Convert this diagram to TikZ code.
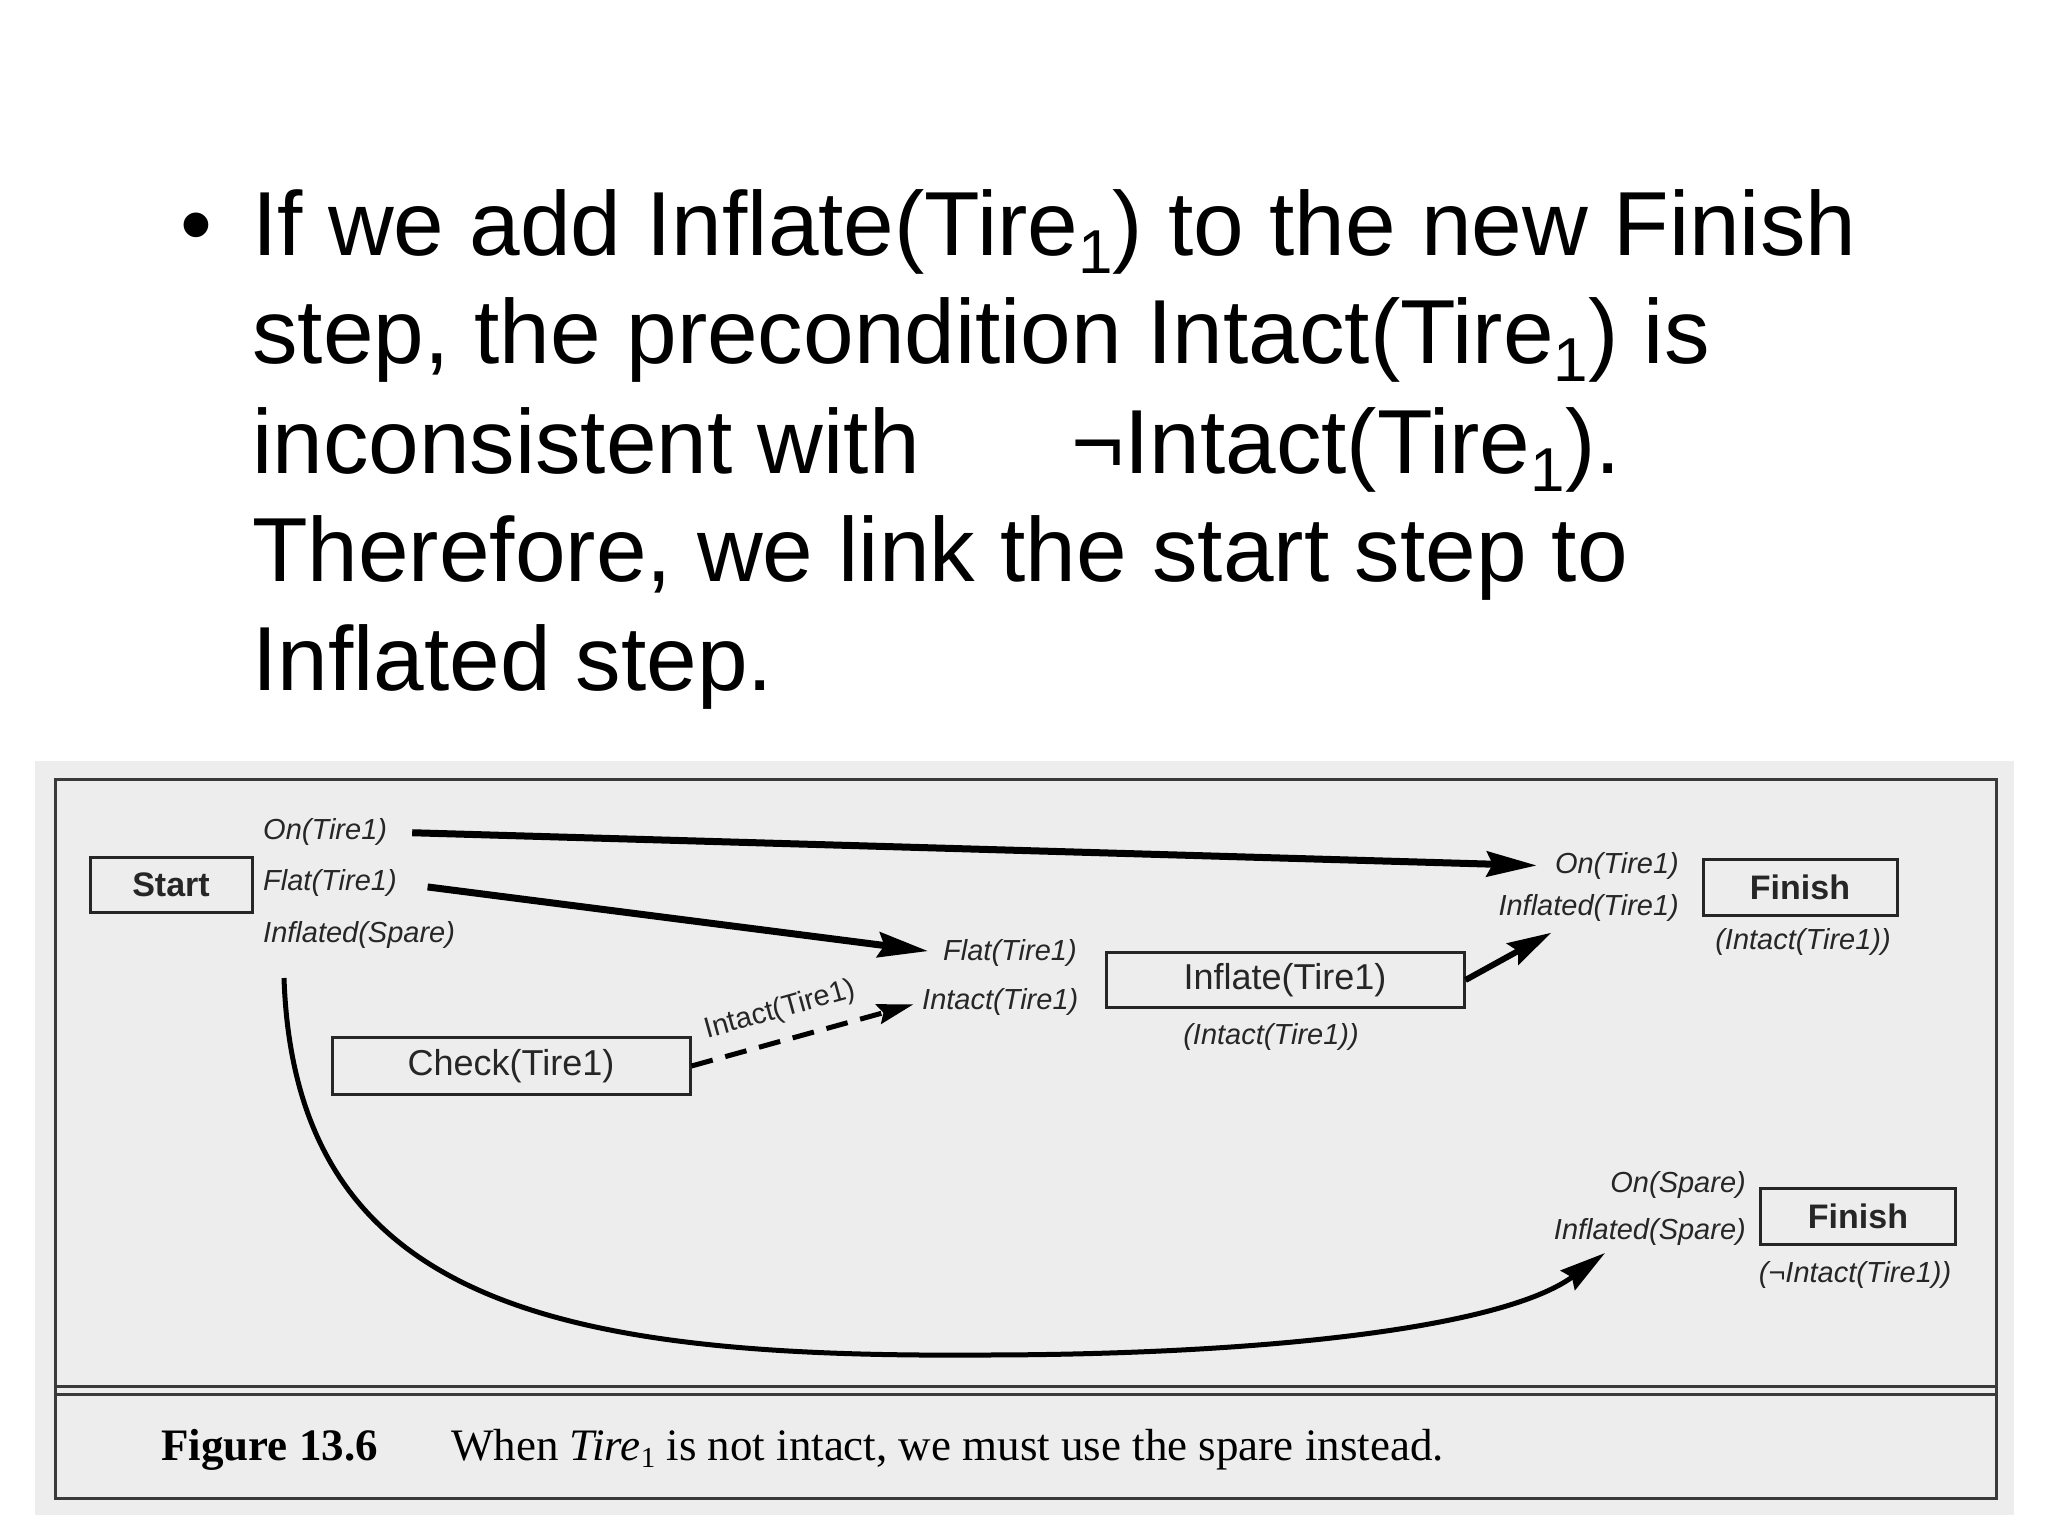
\documentclass[tikz,border=0pt]{standalone}
\usepackage{fontspec}
\setmainfont{Liberation Sans}
\newfontfamily\capserif{Liberation Serif}
\usetikzlibrary{arrows.meta}
\definecolor{scan}{HTML}{EDEDED}
\definecolor{ink}{HTML}{262626}
\definecolor{frame}{HTML}{3A3A3A}
\newcommand\bigsub[1]{\raisebox{-18pt}{\fontsize{62}{62}\selectfont #1}}
\newcommand\capsub[1]{\raisebox{-7pt}{\fontsize{29}{29}\selectfont #1}}
\begin{document}
\begin{tikzpicture}[x=1pt,y=-1pt,
  bul/.style={anchor=base west, inner sep=0pt, font=\fontsize{91}{109}\selectfont},
  stepbox/.style={draw=ink, line width=3pt, inner sep=0pt, text=ink, fill=none},
  boldlab/.style={font=\fontsize{34}{40}\selectfont\bfseries},
  plainlab/.style={font=\fontsize{36}{42}\selectfont},
  cond/.style={inner sep=0pt, text=ink, font=\fontsize{29}{34}\selectfont\itshape},
  bigarrow/.style={draw=black, line width=7pt, -{Stealth[length=50pt,width=25pt,inset=6pt]}},
  midarrow/.style={draw=black, line width=6pt, -{Stealth[length=44pt,width=24pt,inset=6pt]}},
  dasharrow/.style={draw=black, line width=5pt, dash pattern=on 22pt off 13pt, -{Stealth[length=36pt,width=20pt,inset=5pt]}},
  curvearrow/.style={draw=black, line width=5pt, -{Stealth[length=46pt,width=24pt,inset=5pt]}},
  caption/.style={anchor=base west, inner sep=0pt, font=\capserif\fontsize{45}{52}\selectfont}]
\useasboundingbox (0,0) rectangle (2048,1536);
\fill[white] (0,0) rectangle (2048,1536);

% ---- bullet text ----
\node[bul] (dot) at (180,255) {\textbullet};
\node[bul] (l1) at (252,255) {If we add Inflate(Tire\bigsub{1}) to the new Finish};
\node[bul] (l2) at (252,363) {step, the precondition Intact(Tire\bigsub{1}) is};
\node[bul] (l3a) at (252,473) {inconsistent with};
\node[bul] (l3b) at (1071,473) {¬Intact(Tire\bigsub{1}).};
\node[bul] (l4) at (252,581) {Therefore, we link the start step to};
\node[bul] (l5) at (252,690) {Inflated step.};

% ---- scanned figure ----
\fill[scan] (35,761) rectangle (2014,1515);
\draw[frame, line width=3pt] (55,779) rectangle (1996,1498);
\draw[frame, line width=3pt] (55,1386) -- (1996,1386);
\draw[frame, line width=3pt] (55,1394) -- (1996,1394);

% step boxes
\node[stepbox, boldlab, minimum width=162pt, minimum height=55pt] (start) at (171,885) {Start};
\node[stepbox, plainlab, minimum width=358pt, minimum height=57pt] (check) at (511,1066) {Check(Tire1)};
\node[stepbox, plainlab, minimum width=358pt, minimum height=55pt] (inflate) at (1285,980) {Inflate(Tire1)};
\node[stepbox, boldlab, minimum width=194pt, minimum height=56pt] (fin1) at (1800,887) {Finish};
\node[stepbox, boldlab, minimum width=195pt, minimum height=56pt] (fin2) at (1858,1216) {Finish};

% conditions
\node[cond, anchor=west] (on1) at (263,832) {On(Tire1)};
\node[cond, anchor=west] (flat1) at (263,883) {Flat(Tire1)};
\node[cond, anchor=west] (infsp1) at (263,935) {Inflated(Spare)};
\node[cond, anchor=west] (flat2) at (943,953) {Flat(Tire1)};
\node[cond, anchor=west] (intact2) at (922,1002) {Intact(Tire1)};
\node[cond] (inflctx) at (1271,1037) {(Intact(Tire1))};
\node[cond, anchor=east] (on2) at (1679,866) {On(Tire1)};
\node[cond, anchor=east] (inft1) at (1679,908) {Inflated(Tire1)};
\node[cond] (fin1ctx) at (1803,942) {(Intact(Tire1))};
\node[cond, anchor=east] (onsp) at (1746,1185) {On(Spare)};
\node[cond, anchor=east] (infsp2) at (1746,1232) {Inflated(Spare)};
\node[cond] (fin2ctx) at (1855,1275) {(¬Intact(Tire1))};

% causal links
\draw[bigarrow, shorten <=25pt, shorten >=18pt] (on1.east) -- (on2.west);
\draw[bigarrow, shorten <=31pt, shorten >=15pt] (flat1.east) -- (flat2.west);
\draw[midarrow] (inflate.east) -- ([shift={(53,11)}]inft1.south west);
\draw[dasharrow, shorten >=9pt] (check.east) -- (intact2.west)
  node[pos=0.42, sloped, above=14pt, inner sep=0pt, text=ink, font=\fontsize{29}{34}\selectfont] (lnk) {Intact(Tire1)};

\coordinate (cstart) at (284,978);
\coordinate (cmid) at (980,1355);
\coordinate (cend) at (1605,1253);
\draw[curvearrow] (cstart) .. controls (295,1300) and (550,1358) .. (cmid)
  .. controls (1250,1355) and (1500,1330) .. (cend);

% caption
\node[caption] (fig) at (161,1460) {\bfseries Figure 13.6};
\node[caption] (captext) at (451,1460) {When \textit{Tire}\capsub{1} is not intact, we must use the spare instead.};
\end{tikzpicture}
\end{document}
